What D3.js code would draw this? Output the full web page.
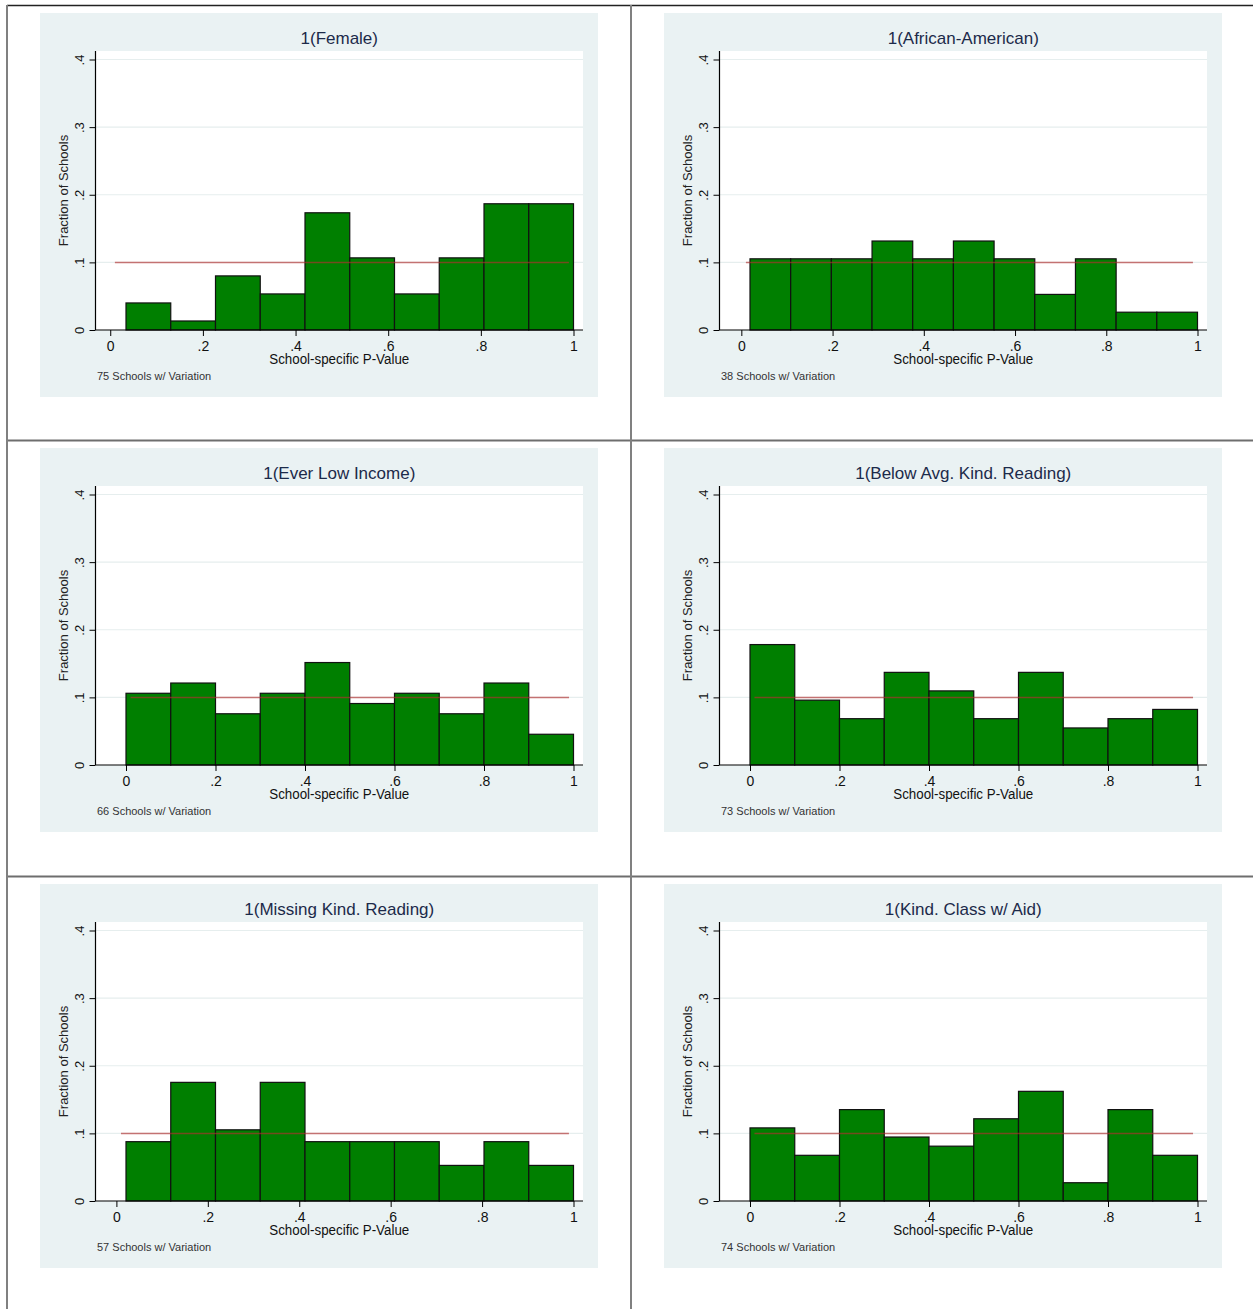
<!DOCTYPE html>
<html>
<head>
<meta charset="utf-8">
<script src="https://cdn.jsdelivr.net/npm/d3@7"></script>
<style>
  body { margin: 0; background: #fff; }
  text { font-family: "Liberation Sans", Arial, sans-serif; }
</style>
</head>
<body>
<svg width="1253" height="1309"></svg>
<script>
// panel titles, in reading order (left-right, top-bottom)
const TITLES = [
  "1(Female)", "1(African-American)",
  "1(Ever Low Income)", "1(Below Avg. Kind. Reading)",
  "1(Missing Kind. Reading)", "1(Kind. Class w/ Aid)"
];
const SCHOOL_COUNTS = [75, 38, 66, 73, 57, 74];
// left edge of first bin (histogram starts at smallest p-value)
const BIN_STARTS = [0.034, 0.019, 0, 0, 0.021, 0];
const BIN_END = 1;

// number of schools in each bin
const FEMALE = [3, 1, 6, 4, 13, 8, 4, 8, 14, 14];
const AFRICAN_AMERICAN = [4, 4, 4, 5, 4, 5, 4, 2, 4, 1, 1];
const EVER_LOW_INCOME = [7, 8, 5, 7, 10, 6, 7, 5, 8, 3];
const BELOW_AVG_READING = [13, 7, 5, 10, 8, 5, 10, 4, 5, 6];
const MISSING_READING = [5, 10, 6, 10, 5, 5, 5, 3, 5, 3];
const CLASS_W_AID = [8, 5, 10, 7, 6, 9, 12, 2, 10, 5];
const COUNTS = [FEMALE, AFRICAN_AMERICAN, EVER_LOW_INCOME, BELOW_AVG_READING, MISSING_READING, CLASS_W_AID];

const X_TICKS = [0, 0.2, 0.4, 0.6, 0.8, 1];
const X_TICK_LABELS = ["0", ".2", ".4", ".6", ".8", "1"];
const Y_TICKS = [0, 0.1, 0.2, 0.3, 0.4];
const Y_TICK_LABELS = ["0", ".1", ".2", ".3", ".4"];
const REF_X = [0.01, 0.99];   // uniform reference line
const REF_Y = 0.1;

const CELL_X = [7, 631];
const CELL_Y = [5, 440, 876];
const BG = { dx: 33, dy: 8, w: 558, h: 384 };
const PLOT = { left: 55.5, right: 543, top: 38, bottom: 317 };

const svg = d3.select("svg");

// table grid lines
const grid = svg.append("g").attr("fill", "none");
grid.append("line").attr("x1", 7).attr("x2", 1253).attr("y1", 5.5).attr("y2", 5.5)
    .attr("stroke", "#222").attr("stroke-width", 1.5);
[440.5, 876.5].forEach(yy => {
  grid.append("line").attr("x1", 7).attr("x2", 1253).attr("y1", yy).attr("y2", yy)
      .attr("stroke", "#6e6e6e").attr("stroke-width", 2);
});
[7, 631].forEach(xx => {
  grid.append("line").attr("x1", xx).attr("x2", xx).attr("y1", 5).attr("y2", 1309)
      .attr("stroke", "#808080").attr("stroke-width", 2);
});

const y = d3.scaleLinear().domain([0, 0.4]).range([317, 46.5]);

TITLES.forEach((title, i) => {
  const col = i % 2, row = Math.floor(i / 2);
  const counts = COUNTS[i];
  const n = SCHOOL_COUNTS[i];
  const start = BIN_STARTS[i];
  const width = (BIN_END - start) / counts.length;
  const bins = counts.map((c, j) => ({ x0: start + j * width, x1: start + (j + 1) * width, frac: c / n }));

  const x = d3.scaleLinear().domain([start, BIN_END]).range([86, 533.5]);

  const g = svg.append("g")
      .attr("transform", `translate(${CELL_X[col] + BG.dx},${CELL_Y[row] + BG.dy})`);

  g.append("rect").attr("width", BG.w).attr("height", BG.h).attr("fill", "#eaf2f3");
  g.append("rect")
      .attr("x", PLOT.left).attr("y", PLOT.top)
      .attr("width", PLOT.right - PLOT.left).attr("height", PLOT.bottom - PLOT.top)
      .attr("fill", "#fff");

  // grid lines
  g.selectAll(".gridline")
    .data(Y_TICKS.slice(1))
    .enter().append("line")
      .attr("x1", PLOT.left).attr("x2", PLOT.right)
      .attr("y1", d => y(d)).attr("y2", d => y(d))
      .attr("stroke", "#e6eeee").attr("stroke-width", 1.2);

  g.selectAll(".bar")
    .data(bins)
    .enter().append("rect")
      .classed("bar", true)
      .attr("x", d => x(d.x0))
      .attr("y", d => y(d.frac))
      .attr("width", d => x(d.x1) - x(d.x0))
      .attr("height", d => y(0) - y(d.frac))
      .attr("fill", "#007f00")
      .attr("stroke", "#111")
      .attr("stroke-width", 1.2);

  g.append("line")
      .attr("x1", x(REF_X[0])).attr("x2", x(REF_X[1]))
      .attr("y1", y(REF_Y)).attr("y2", y(REF_Y))
      .attr("stroke", "#b03030").attr("stroke-opacity", 0.65).attr("stroke-width", 1.5);

  // x axis
  const xAxis = g.append("g")
      .attr("transform", `translate(0,${y(0)})`)
      .call(d3.axisBottom(x).tickValues(X_TICKS).tickFormat((d, j) => X_TICK_LABELS[j]).tickSize(6));
  xAxis.select(".domain").remove();
  xAxis.selectAll("line").attr("stroke", "#000");
  xAxis.selectAll("text").attr("y", 11).attr("font-size", 14).attr("fill", "#111")
      .attr("font-family", "Liberation Sans, Arial, sans-serif");
  g.append("line").attr("x1", PLOT.left).attr("x2", PLOT.right)
      .attr("y1", y(0)).attr("y2", y(0)).attr("stroke", "#000").attr("stroke-width", 1.2);

  // y axis
  const yAxis = g.append("g")
      .attr("transform", `translate(${PLOT.left},0)`)
      .call(d3.axisLeft(y).tickValues(Y_TICKS).tickFormat((d, j) => Y_TICK_LABELS[j]).tickSize(6));
  yAxis.select(".domain").remove();
  yAxis.selectAll("line").attr("stroke", "#000");
  yAxis.selectAll("text")
      .attr("x", 0).attr("dy", "0.35em")
      .attr("text-anchor", "middle")
      .attr("transform", "translate(-16,0) rotate(-90)")
      .attr("font-size", 13).attr("fill", "#111")
      .attr("font-family", "Liberation Sans, Arial, sans-serif");
  g.append("line").attr("x1", PLOT.left).attr("x2", PLOT.left)
      .attr("y1", PLOT.top).attr("y2", y(0)).attr("stroke", "#000").attr("stroke-width", 1.2);

  // labels
  g.append("text")
      .attr("x", (PLOT.left + PLOT.right) / 2).attr("y", 31)
      .attr("text-anchor", "middle").attr("font-size", 17).attr("fill", "#1c2a4a")
      .text(title);
  g.append("text")
      .attr("x", (PLOT.left + PLOT.right) / 2).attr("y", 351)
      .attr("text-anchor", "middle").attr("font-size", 14).attr("fill", "#111")
      .attr("textLength", 140).attr("lengthAdjust", "spacingAndGlyphs")
      .text("School-specific P-Value");
  g.append("text")
      .attr("transform", `translate(28,${(PLOT.top + PLOT.bottom) / 2}) rotate(-90)`)
      .attr("text-anchor", "middle").attr("font-size", 13).attr("fill", "#222")
      .text("Fraction of Schools");
  g.append("text")
      .attr("x", 57).attr("y", 367)
      .attr("font-size", 11).attr("fill", "#333")
      .text(`${n} Schools w/ Variation`);
});
</script>
</body>
</html>
